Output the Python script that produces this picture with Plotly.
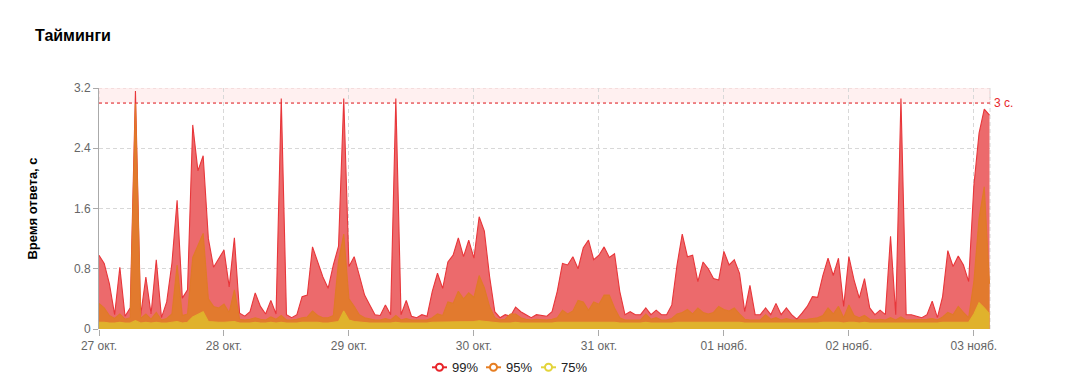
import pandas as pd
import plotly.graph_objects as go

# hourly timestamps from 27 Oct 00:00
times = pd.date_range("2023-10-27 00:00", periods=172, freq="h")

p99 = [
    0.98, 0.87, 0.60, 0.19, 0.82, 0.17, 0.28, 3.16, 0.18, 0.69,
    0.20, 0.92, 0.15, 0.36, 0.87, 1.71, 0.41, 0.52, 2.71, 2.10,
    2.30, 1.20, 0.82, 0.94, 1.05, 0.56, 1.21, 0.21, 0.17, 0.23,
    0.48, 0.30, 0.20, 0.38, 0.20, 3.06, 0.19, 0.15, 0.19, 0.43,
    0.45, 1.09, 0.90, 0.69, 0.54, 0.85, 1.10, 3.06, 0.83, 0.96,
    0.71, 0.45, 0.32, 0.19, 0.18, 0.32, 0.19, 3.06, 0.19, 0.38,
    0.17, 0.15, 0.19, 0.17, 0.50, 0.74, 0.54, 0.89, 0.98, 1.21,
    0.96, 1.18, 0.94, 1.49, 1.30, 0.70, 0.23, 0.15, 0.19, 0.17,
    0.29, 0.23, 0.19, 0.15, 0.19, 0.18, 0.17, 0.23, 0.50, 0.87,
    0.85, 0.96, 0.80, 1.08, 1.18, 0.92, 0.98, 1.09, 0.95, 1.00,
    0.50, 0.19, 0.23, 0.19, 0.19, 0.28, 0.19, 0.25, 0.19, 0.19,
    0.32, 0.85, 1.26, 0.96, 0.98, 0.63, 0.89, 0.80, 0.67, 0.65,
    1.03, 0.85, 0.92, 0.74, 0.23, 0.58, 0.19, 0.19, 0.28, 0.19,
    0.34, 0.19, 0.28, 0.19, 0.13, 0.21, 0.30, 0.43, 0.42, 0.71,
    0.94, 0.71, 0.94, 0.30, 0.96, 0.65, 0.41, 0.67, 0.28, 0.19,
    0.25, 0.19, 1.23, 0.19, 3.06, 0.19, 0.19, 0.17, 0.15, 0.19,
    0.37, 0.15, 0.43, 1.04, 0.83, 0.97, 0.85, 0.63, 1.90, 2.60,
    2.92, 2.84,
]

p95 = [
    0.34, 0.28, 0.18, 0.14, 0.20, 0.13, 0.15, 3.00, 0.14, 0.20,
    0.13, 0.22, 0.12, 0.14, 0.20, 0.85, 0.18, 0.20, 0.95, 1.10,
    1.27, 0.40, 0.30, 0.28, 0.33, 0.22, 0.52, 0.13, 0.12, 0.13,
    0.15, 0.13, 0.12, 0.16, 0.13, 0.18, 0.12, 0.12, 0.13, 0.15,
    0.16, 0.24, 0.18, 0.15, 0.15, 0.18, 0.90, 1.26, 0.40, 0.30,
    0.19, 0.15, 0.14, 0.12, 0.12, 0.14, 0.12, 0.18, 0.12, 0.14,
    0.12, 0.12, 0.12, 0.12, 0.15, 0.20, 0.18, 0.36, 0.34, 0.50,
    0.40, 0.48, 0.42, 0.71, 0.55, 0.30, 0.15, 0.12, 0.13, 0.20,
    0.20, 0.15, 0.13, 0.12, 0.13, 0.12, 0.12, 0.13, 0.15, 0.25,
    0.20, 0.24, 0.38, 0.36, 0.25, 0.36, 0.33, 0.45, 0.45, 0.28,
    0.15, 0.12, 0.12, 0.12, 0.12, 0.20, 0.13, 0.15, 0.12, 0.12,
    0.14, 0.20, 0.22, 0.26, 0.20, 0.28, 0.22, 0.20, 0.22, 0.30,
    0.26, 0.24, 0.28, 0.20, 0.13, 0.12, 0.12, 0.12, 0.19, 0.13,
    0.15, 0.12, 0.14, 0.12, 0.12, 0.12, 0.13, 0.14, 0.15, 0.18,
    0.28, 0.20, 0.30, 0.15, 0.32, 0.18, 0.15, 0.18, 0.13, 0.12,
    0.13, 0.12, 0.15, 0.12, 0.16, 0.12, 0.12, 0.12, 0.12, 0.13,
    0.14, 0.12, 0.16, 0.22, 0.19, 0.30, 0.22, 0.15, 0.63, 1.47,
    1.89, 0.60,
]

p75 = [
    0.09, 0.09, 0.08, 0.08, 0.09, 0.08, 0.08, 0.11, 0.08, 0.09,
    0.08, 0.09, 0.08, 0.08, 0.09, 0.10, 0.08, 0.09, 0.16, 0.19,
    0.23, 0.10, 0.09, 0.09, 0.09, 0.09, 0.10, 0.08, 0.08, 0.08,
    0.09, 0.08, 0.08, 0.09, 0.08, 0.09, 0.08, 0.08, 0.08, 0.09,
    0.09, 0.09, 0.09, 0.08, 0.08, 0.09, 0.10, 0.24, 0.12, 0.10,
    0.09, 0.08, 0.08, 0.08, 0.08, 0.08, 0.08, 0.09, 0.08, 0.08,
    0.08, 0.08, 0.08, 0.08, 0.09, 0.09, 0.09, 0.10, 0.10, 0.10,
    0.10, 0.10, 0.10, 0.11, 0.10, 0.09, 0.08, 0.08, 0.08, 0.08,
    0.09, 0.08, 0.08, 0.08, 0.08, 0.08, 0.08, 0.08, 0.09, 0.09,
    0.09, 0.09, 0.10, 0.10, 0.09, 0.10, 0.10, 0.10, 0.10, 0.09,
    0.08, 0.08, 0.08, 0.08, 0.08, 0.09, 0.08, 0.08, 0.08, 0.08,
    0.08, 0.09, 0.09, 0.09, 0.09, 0.09, 0.09, 0.09, 0.09, 0.09,
    0.09, 0.09, 0.09, 0.09, 0.08, 0.08, 0.08, 0.08, 0.08, 0.08,
    0.08, 0.08, 0.08, 0.08, 0.08, 0.08, 0.08, 0.08, 0.08, 0.09,
    0.09, 0.09, 0.09, 0.08, 0.09, 0.09, 0.08, 0.09, 0.08, 0.08,
    0.08, 0.08, 0.08, 0.08, 0.08, 0.08, 0.08, 0.08, 0.08, 0.08,
    0.08, 0.08, 0.09, 0.09, 0.09, 0.09, 0.09, 0.09, 0.20, 0.35,
    0.28, 0.20,
]

tick_dates = ["2023-10-27", "2023-10-28", "2023-10-29", "2023-10-30",
              "2023-10-31", "2023-11-01", "2023-11-02", "2023-11-03"]
tick_labels = ["27 окт.", "28 окт.", "29 окт.", "30 окт.",
               "31 окт.", "01 нояб.", "02 нояб.", "03 нояб."]
y_ticks = [0, 0.8, 1.6, 2.4, 3.2]
threshold = 3.0
y_max = 3.2

series_names = ["99%", "95%", "75%"]
line_colors = ["#e8262b", "#e67e22", "#e3d43a"]
fill_colors = ["#ec6a6c", "#e27a2e", "#e0b22c"]
edge_colors = ["#e8363a", "#e07a28", "#e0b22c"]

# layout geometry (figure pixels)
W, H = 1086, 392
ML, MR, MT, MB = 91, 104, 80, 71
PW, PH = W - ML - MR, H - MT - MB


def px_x(fx):
    return (fx - ML) / PW


def px_y(fy):
    return (H - MB - fy) / PH


fig = go.Figure()

# threshold band
fig.add_shape(type="rect", xref="paper", yref="y", x0=0, x1=1, y0=threshold, y1=y_max,
              fillcolor="rgba(255,0,0,0.06)", line=dict(color="rgba(225,185,185,0.7)", width=1, dash="3px,3px"),
              layer="below")
# right edge dashed border
fig.add_shape(type="line", xref="paper", yref="paper", x0=1, x1=1, y0=0, y1=1,
              line=dict(color="#d8d8d8", width=1, dash="4px,3px"), layer="below")

for vals, name, fc, ec in zip([p99, p95, p75], series_names, fill_colors, edge_colors):
    fig.add_trace(go.Scatter(
        x=times, y=vals, mode="lines", name=name, showlegend=False,
        line=dict(color=ec, width=1.1), fill="tozeroy", fillcolor=fc,
        hoverinfo="x+y",
    ))

fig.add_shape(type="line", xref="paper", yref="y", x0=0, x1=1, y0=threshold, y1=threshold,
              line=dict(color="#e8262b", width=1, dash="dot"))
fig.add_annotation(xref="paper", yref="y", x=1, y=threshold, text="3 с.", showarrow=False,
                   xanchor="left", yanchor="middle", xshift=2,
                   font=dict(color="#e8262b", size=12, family="Liberation Sans, Arial"))

# custom legend (symbol: short line with open circle, then label)
legend_y = 359.3
legend_x0 = [424, 478, 533]
for name, lc, lx in zip(series_names, line_colors, legend_x0):
    fig.add_shape(type="line", xref="paper", yref="paper",
                  x0=px_x(lx), x1=px_x(lx + 15), y0=px_y(legend_y), y1=px_y(legend_y),
                  line=dict(color=lc, width=2))
    fig.add_shape(type="circle", xref="paper", yref="paper",
                  x0=px_x(lx + 4), x1=px_x(lx + 11), y0=px_y(legend_y + 3.5), y1=px_y(legend_y - 3.5),
                  fillcolor="white", line=dict(color=lc, width=2))
    fig.add_annotation(xref="paper", yref="paper", x=px_x(lx + 18), y=px_y(legend_y),
                       text=name, showarrow=False, xanchor="left", yanchor="middle",
                       font=dict(size=13, color="#222", family="Liberation Sans, Arial"))

fig.update_layout(
    width=W, height=H,
    paper_bgcolor="white", plot_bgcolor="white",
    margin=dict(l=ML, r=MR, t=MT, b=MB),
    font=dict(family="Liberation Sans, Arial, sans-serif", size=12, color="#666"),
    title=dict(text="<b>Тайминги</b>", x=27 / W, xref="container", xanchor="left",
               y=1 - 27 / H, yref="container", yanchor="middle",
               font=dict(size=16, color="#000", family="Liberation Sans, Arial")),
    showlegend=False,
)

fig.update_xaxes(
    range=[times[0], pd.Timestamp("2023-11-03 03:06")],
    tickvals=tick_dates, ticktext=tick_labels,
    showgrid=True, gridcolor="#d8d8d8", griddash="4px,3px", gridwidth=1,
    ticks="outside", ticklen=6, tickcolor="#aaa",
    showline=False, zeroline=False,
    tickfont=dict(size=12, color="#666"),
)
fig.update_yaxes(
    range=[0, y_max], tickvals=y_ticks, ticktext=["0", "0.8", "1.6", "2.4", "3.2"],
    showgrid=True, gridcolor="#d8d8d8", griddash="4px,3px", gridwidth=1,
    ticks="outside", ticklen=5, tickcolor="#aaa",
    showline=True, linecolor="#aaa", linewidth=1, zeroline=False,
    title=dict(text="<b>Время ответа, с</b>", font=dict(size=13, color="#000"), standoff=33),
    tickfont=dict(size=12, color="#666"),
)

fig.write_html("out.html")
